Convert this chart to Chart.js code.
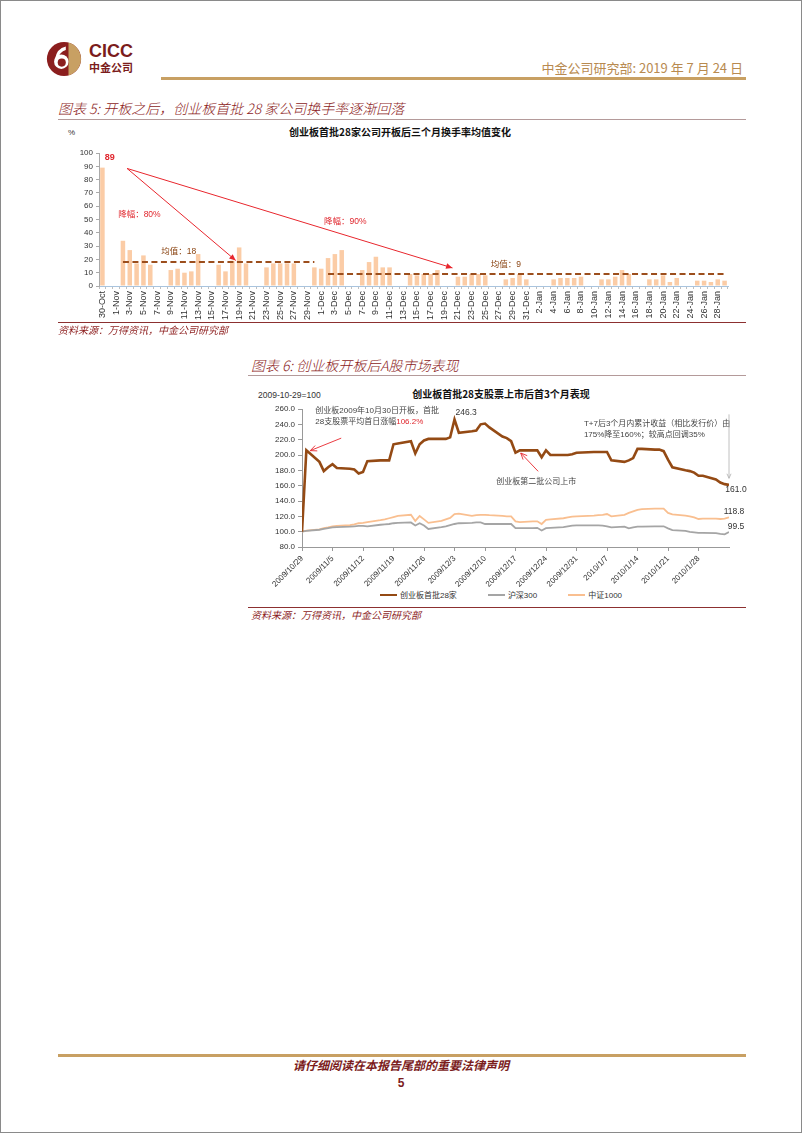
<!DOCTYPE html>
<html>
<head>
<meta charset="utf-8">
<script src="https://cdn.jsdelivr.net/npm/chart.js@4.4.1/dist/chart.umd.min.js"></script>
<style>
  body { margin: 0; background: #fff; }
  #page { position: relative; width: 800px; height: 1131px; border: 1px solid #8a8a8a; overflow: hidden;
          font-family: "Liberation Sans", "Noto Sans CJK SC", sans-serif; }
  .abs { position: absolute; white-space: nowrap; line-height: 1; }
  .fig { color: #8c1c1c; font-style: italic; font-size: 14px; font-weight: 300; font-family: "Noto Sans CJK SC", sans-serif; }
  .src { color: #8c1c1c; font-style: italic; font-size: 10px; font-family: "Noto Sans CJK SC", sans-serif; }
  .rule { position: absolute; height: 1px; }
  canvas { position: absolute; }
  #legend { position: absolute; left: 250px; top: 588px; width: 500px; display: flex; justify-content: center;
            gap: 31px; font-size: 8px; color: #333; font-family: "Liberation Sans", "Noto Sans CJK SC", sans-serif; }
  #legend span.item { display: flex; align-items: center; }
  #legend span.swatch { display: inline-block; width: 17px; height: 2px; margin-right: 3px; }
</style>
</head>
<body>
<div id="page">
  <!-- header -->
  <svg class="abs" style="left:45px;top:40px" width="36" height="36" viewBox="0 0 40 40">
    <circle cx="20" cy="20" r="19" fill="#8b1e1e"/>
    <path d="M25 1.7 A19 19 0 0 1 25 38.3 Z" fill="#c8a063"/>
    <circle cx="17" cy="23" r="8" fill="#fff"/>
    <circle cx="17.5" cy="24" r="4.5" fill="#8b1e1e"/>
    <path d="M10 20 Q12 8 22 6 L22 10 Q15 12 13 20 Z" fill="#fff"/>
  </svg>
  <div class="abs" style="left:88px;top:41px;font-size:18px;font-weight:bold;color:#7b1c1c;">CICC</div>
  <div class="abs" style="left:88px;top:61px;font-size:11px;font-weight:bold;color:#7b1c1c;font-family:'Noto Sans CJK SC';">中金公司</div>
  <div class="abs" style="right:58px;top:60px;font-size:13px;color:#b88a50;font-family:'Noto Sans CJK SC';">中金公司研究部: 2019 年 7 月 24 日</div>
  <div class="rule" style="left:160px;top:76px;width:585px;height:2.5px;background:#c8a063;"></div>

  <!-- figure 5 -->
  <div class="abs fig" style="left:57px;top:100px;">图表 5: 开板之后，创业板首批 28 家公司换手率逐渐回落</div>
  <div class="rule" style="left:57px;top:118px;width:688px;background:#b49a9a;"></div>
  <div class="abs" style="left:0;width:798px;top:126px;text-align:center;font-size:10px;font-weight:bold;color:#111;font-family:'Noto Sans CJK SC';">创业板首批28家公司开板后三个月换手率均值变化</div>
  <div class="abs" style="left:67px;top:128px;font-size:8px;color:#333;">%</div>
  <canvas id="turnover" width="690" height="182" style="left:60px;top:140px;"></canvas>
  <div class="rule" style="left:57px;top:321px;width:688px;background:#8c3030;"></div>
  <div class="abs src" style="left:57px;top:324px;">资料来源：万得资讯，中金公司研究部</div>

  <!-- figure 6 -->
  <div class="abs fig" style="left:250px;top:357px;">图表 6: 创业板开板后A股市场表现</div>
  <div class="rule" style="left:247px;top:374px;width:498px;background:#b49a9a;"></div>
  <div class="abs" style="left:250px;width:500px;top:388px;text-align:center;font-size:10px;font-weight:bold;color:#111;font-family:'Noto Sans CJK SC';">创业板首批28支股票上市后首3个月表现</div>
  <div class="abs" style="left:257px;top:390px;font-size:8.5px;color:#333;">2009-10-29=100</div>
  <canvas id="perf" width="500" height="190" style="left:250px;top:398px;"></canvas>
  <div id="legend"></div>
  <div class="rule" style="left:247px;top:606px;width:498px;background:#8c3030;"></div>
  <div class="abs src" style="left:250px;top:609px;">资料来源：万得资讯，中金公司研究部</div>

  <!-- footer -->
  <div class="rule" style="left:57px;top:1053px;width:688px;height:3px;background:#c8a063;"></div>
  <div class="abs" style="left:0;width:800px;top:1058px;text-align:center;font-size:12px;font-weight:bold;font-style:italic;color:#7b1c1c;font-family:'Noto Sans CJK SC';">请仔细阅读在本报告尾部的重要法律声明</div>
  <div class="abs" style="left:0;width:800px;top:1076px;text-align:center;font-size:12px;font-weight:bold;color:#7b1c1c;">5</div>
</div>

<script>
// ---- Figure 5: daily turnover of the first 28 GEM stocks (%) ----
const turnoverDays = [
  '30-Oct','31-Oct',
  '1-Nov','2-Nov','3-Nov','4-Nov','5-Nov','6-Nov','7-Nov','8-Nov','9-Nov','10-Nov',
  '11-Nov','12-Nov','13-Nov','14-Nov','15-Nov','16-Nov','17-Nov','18-Nov','19-Nov','20-Nov',
  '21-Nov','22-Nov','23-Nov','24-Nov','25-Nov','26-Nov','27-Nov','28-Nov','29-Nov','30-Nov',
  '1-Dec','2-Dec','3-Dec','4-Dec','5-Dec','6-Dec','7-Dec','8-Dec','9-Dec','10-Dec',
  '11-Dec','12-Dec','13-Dec','14-Dec','15-Dec','16-Dec','17-Dec','18-Dec','19-Dec','20-Dec',
  '21-Dec','22-Dec','23-Dec','24-Dec','25-Dec','26-Dec','27-Dec','28-Dec','29-Dec','30-Dec','31-Dec',
  '1-Jan','2-Jan','3-Jan','4-Jan','5-Jan','6-Jan','7-Jan','8-Jan','9-Jan','10-Jan',
  '11-Jan','12-Jan','13-Jan','14-Jan','15-Jan','16-Jan','17-Jan','18-Jan','19-Jan','20-Jan',
  '21-Jan','22-Jan','23-Jan','24-Jan','25-Jan','26-Jan','27-Jan','28-Jan','29-Jan'
];
const turnoverRate = [
  89, null,
  null, 34, 27, 17, 23, 16, null, null, 12, 13,
  10, 11, 24, null, null, 16, 11, 19, 29, 17,
  null, null, 14, 17, 17, 17, 17, null, null, 14,
  13, 21, 24, 27, null, null, 12, 18, 22, 14,
  14, null, null, 9, 8, 9, 9, 12, null, null,
  7, 7, 9, 9, 8, null, null, 5, 6, 9, 5,
  null, null, null, 5, 6, 6, 6, 7, null, null,
  5, 5, 7, 12, 9, null, null, 5, 5, 8,
  3, 6, null, null, 4, 4, 3, 5, 4
];
const meanLevels = [18, 9];
const meanSpans = [['2-Nov', '30-Nov'], ['2-Dec', '29-Jan']];

// annotation anchors in (category index, value)
const dropFrom = [3.6, 88.4];
const dropTo = [[19.5, 19.2], [51.2, 13.6]];
const dropNotes = [['降幅：80%', 2.3, 53.6], ['降幅：90%', 32.4, 48.5]];
const meanNotes = [['均值：18', 8.6, 25.5], ['均值：9', 56.8, 16.4]];

// ---- Figure 6: index performance (2009-10-29 = 100) ----
const perfDates = [
  '2009/10/29','2009/10/30',
  '2009/11/2','2009/11/3','2009/11/4','2009/11/5','2009/11/6',
  '2009/11/9','2009/11/10','2009/11/11','2009/11/12','2009/11/13',
  '2009/11/16','2009/11/17','2009/11/18','2009/11/19','2009/11/20',
  '2009/11/23','2009/11/24','2009/11/25','2009/11/26','2009/11/27',
  '2009/11/30','2009/12/1','2009/12/2','2009/12/3','2009/12/4',
  '2009/12/7','2009/12/8','2009/12/9','2009/12/10','2009/12/11',
  '2009/12/14','2009/12/15','2009/12/16','2009/12/17','2009/12/18',
  '2009/12/21','2009/12/22','2009/12/23','2009/12/24','2009/12/25',
  '2009/12/28','2009/12/29','2009/12/30','2009/12/31',
  '2010/1/4','2010/1/5','2010/1/6','2010/1/7','2010/1/8',
  '2010/1/11','2010/1/12','2010/1/13','2010/1/14','2010/1/15',
  '2010/1/18','2010/1/19','2010/1/20','2010/1/21','2010/1/22',
  '2010/1/25','2010/1/26','2010/1/27','2010/1/28','2010/1/29',
  '2010/2/1','2010/2/2','2010/2/3','2010/2/4'
];
const gemFirst28 = [
  100, 206.2,
  191, 179, 184, 188, 183,
  182, 181, 176, 178, 192,
  193, 193, 193, 214, 215,
  218, 202, 214, 219, 221,
  221, 221, 223, 246.3, 229,
  231, 232, 240, 241, 236,
  224, 222, 218, 203, 206,
  206, 206, 197, 206, 200,
  200, 200, 201, 203,
  204, 204, 204, 204, 193,
  191, 193, 196, 208, 208,
  207, 207, 205, 194, 184,
  180, 179, 177, 173, 173,
  168, 164, 162, 161.0
];
const csi300 = [
  100, 101,
  102.5, 103.5, 104.5, 105.5, 106,
  106.5, 107, 107.5, 107.5, 107,
  109, 109.5, 110, 111, 111.5,
  112, 108, 111, 108, 103.5,
  106, 107, 108.5, 110, 111,
  111.5, 112, 112, 110, 110,
  110, 110, 110, 104.5, 104.5,
  104.5, 105, 101.5, 104.5, 105,
  106, 107, 108, 108.2,
  108.2, 108.2, 108, 107, 105.5,
  106.5, 104.3, 105.5, 106.5, 106.5,
  107, 107, 107, 104.3, 102,
  101, 99.6, 99, 98.5, 98.3,
  98, 97, 96.5, 99.5
];
const csi1000 = [
  100, 101.5,
  103, 104.5, 105.5, 107, 107.5,
  108.5, 109.5, 111, 111.5, 112.5,
  115, 116, 117.5, 119, 120.5,
  122, 114, 120.5, 116, 111.5,
  114, 116, 118, 123, 123.5,
  120.5, 121.5, 122, 122, 121.5,
  120.5, 120, 120, 113.5, 112.5,
  113.5, 113.5, 110, 115.5, 116,
  117.5, 118.5, 119.5, 120,
  121, 121.5, 122, 123, 120,
  122, 124.5, 126.5, 128.5, 129.5,
  130, 130, 130, 124.5, 122.5,
  121, 120, 118.5, 116.5, 117,
  117, 116.5, 117, 118.8
];
const seriesNames = ['创业板首批28家', '沪深300', '中证1000'];
const seriesColors = ['#944a14', '#a5a5a5', '#f9bf90'];
const weekTicks = ['2009/10/29','2009/11/5','2009/11/12','2009/11/19','2009/11/26','2009/12/3','2009/12/10',
                   '2009/12/17','2009/12/24','2009/12/31','2010/1/7','2010/1/14','2010/1/21','2010/1/28'];
const lastDay = '2010/2/4';

// notes on figure 6, anchored at (day offset, index level)
const openNote = ['创业板2009年10月30日开板，首批', '28支股票平均首日涨幅', '106.2%'];
const openNoteAt = [3.05, 258, 243.5];
const openArrow = [[9.0, 222], [1.9, 205.7]];
const secondBatchNote = ['创业板第二批公司上市', 44.6, 165];
const secondBatchArrow = [[54.2, 178.7], [50.2, 202.6]];
const pullbackNote = ['T+7后3个月内累计收益（相比发行价）由', '175%降至160%；较高点回调35%'];
const pullbackNoteAt = [64.7, 240.4, 226.5];
const pullbackArrow = [[98, 253], [98, 169.6]];

const cjk = '"Liberation Sans", "Noto Sans CJK SC", sans-serif';
Chart.defaults.font.family = cjk;
Chart.defaults.color = '#333';

const dayOf = s => {
  const [y, m, d] = s.split('/').map(Number);
  const [y0, m0, d0] = perfDates[0].split('/').map(Number);
  return Math.round((Date.UTC(y, m - 1, d) - Date.UTC(y0, m0 - 1, d0)) / 86400000);
};

const drawArrow = (ctx, x1, y1, x2, y2, color, width, head, filled) => {
  const ang = Math.atan2(y2 - y1, x2 - x1);
  ctx.save();
  ctx.strokeStyle = color;
  ctx.fillStyle = color;
  ctx.lineWidth = width;
  ctx.beginPath();
  ctx.moveTo(x1, y1);
  ctx.lineTo(x2, y2);
  ctx.stroke();
  const ax = x2 - head * Math.cos(ang - 0.42), ay = y2 - head * Math.sin(ang - 0.42);
  const bx = x2 - head * Math.cos(ang + 0.42), by = y2 - head * Math.sin(ang + 0.42);
  ctx.beginPath();
  if (filled) {
    ctx.moveTo(x2, y2); ctx.lineTo(ax, ay); ctx.lineTo(bx, by); ctx.closePath(); ctx.fill();
  } else {
    ctx.moveTo(ax, ay); ctx.lineTo(x2, y2); ctx.lineTo(bx, by); ctx.stroke();
  }
  ctx.restore();
};

// arrows and labels on the turnover chart
const turnoverNotes = {
  id: 'turnoverNotes',
  afterDatasetsDraw(chart) {
    const { ctx, scales: { x, y } } = chart;
    const X = v => x.getPixelForValue(v), Y = v => y.getPixelForValue(v);
    dropTo.forEach(p => drawArrow(ctx, X(dropFrom[0]), Y(dropFrom[1]), X(p[0]), Y(p[1]), '#e8262d', 1, 7, true));
    ctx.save();
    ctx.textBaseline = 'middle';
    ctx.textAlign = 'left';
    ctx.font = 'bold 9px ' + cjk;
    ctx.fillStyle = '#e0262d';
    ctx.fillText(String(turnoverRate[0]), X(0.35), Y(96.7));
    ctx.font = '8.5px ' + cjk;
    dropNotes.forEach(n => ctx.fillText(n[0], X(n[1]), Y(n[2])));
    ctx.fillStyle = '#8b4513';
    meanNotes.forEach(n => ctx.fillText(n[0], X(n[1]), Y(n[2])));
    ctx.restore();
  }
};

new Chart(document.getElementById('turnover'), {
  type: 'bar',
  data: {
    labels: turnoverDays,
    datasets: [
      { type: 'bar', data: turnoverRate, backgroundColor: '#fbcca6',
        categoryPercentage: 1, barPercentage: 0.66, order: 2 },
      ...meanLevels.map((lv, i) => ({
        type: 'line', data: [{ x: meanSpans[i][0], y: lv }, { x: meanSpans[i][1], y: lv }],
        borderColor: '#9c4e1c', borderWidth: 2, borderDash: [6, 3.5], pointRadius: 0, order: 1
      }))
    ]
  },
  options: {
    responsive: false,
    animation: false,
    layout: { padding: { top: 12, right: 23, left: 0, bottom: 0 } },
    plugins: { legend: { display: false }, tooltip: { enabled: false } },
    scales: {
      x: {
        grid: { drawOnChartArea: false, tickLength: 3, color: '#c0c0c0' },
        border: { color: '#a9c4de' },
        ticks: { autoSkip: false, maxRotation: 90, minRotation: 90, padding: 2, font: { size: 9 },
                 callback: (v, i) => (i % 2 === 0 ? turnoverDays[i] : '') },
        afterFit: s => { s.height = 37; }
      },
      y: {
        min: 0, max: 100,
        ticks: { stepSize: 10, font: { size: 8 }, padding: 3 },
        grid: { drawOnChartArea: false, tickLength: 3, color: '#aaa' },
        border: { color: '#aaa' },
        afterFit: s => { s.width = 38; }
      }
    }
  },
  plugins: [turnoverNotes]
});

// arrows and notes on the performance chart
const perfNotes = {
  id: 'perfNotes',
  afterDatasetsDraw(chart) {
    const { ctx, scales: { x, y } } = chart;
    const X = v => x.getPixelForValue(v), Y = v => y.getPixelForValue(v);
    ctx.save();
    ctx.textBaseline = 'middle';
    ctx.textAlign = 'left';
    ctx.font = '8px ' + cjk;
    ctx.fillStyle = '#444';
    ctx.fillText(openNote[0], X(openNoteAt[0]), Y(openNoteAt[1]));
    ctx.fillText(openNote[1], X(openNoteAt[0]), Y(openNoteAt[2]));
    const w = ctx.measureText(openNote[1]).width;
    ctx.fillStyle = '#e0262d';
    ctx.fillText(openNote[2], X(openNoteAt[0]) + w, Y(openNoteAt[2]));
    ctx.fillStyle = '#444';
    ctx.fillText(secondBatchNote[0], X(secondBatchNote[1]), Y(secondBatchNote[2]));
    ctx.fillText(pullbackNote[0], X(pullbackNoteAt[0]), Y(pullbackNoteAt[1]));
    ctx.fillText(pullbackNote[1], X(pullbackNoteAt[0]), Y(pullbackNoteAt[2]));

    // peak and end values
    ctx.font = '8.5px ' + cjk;
    ctx.fillStyle = '#333';
    const peak = Math.max(...gemFirst28);
    const peakDay = dayOf(perfDates[gemFirst28.indexOf(peak)]);
    ctx.fillText(peak.toFixed(1), X(peakDay) + 1, Y(peak + 8.5));
    const end = dayOf(lastDay);
    ctx.textAlign = 'center';
    ctx.fillText(gemFirst28[gemFirst28.length - 1].toFixed(1), X(end) + 7, Y(gemFirst28[gemFirst28.length - 1] - 6));
    ctx.fillText(csi1000[csi1000.length - 1].toFixed(1), X(end) + 5, Y(csi1000[csi1000.length - 1] + 7.5));
    ctx.fillText(csi300[csi300.length - 1].toFixed(1), X(end) + 7, Y(csi300[csi300.length - 1] + 7.5));
    ctx.restore();

    drawArrow(ctx, X(openArrow[0][0]), Y(openArrow[0][1]), X(openArrow[1][0]), Y(openArrow[1][1]), '#e8262d', 0.9, 7, false);
    drawArrow(ctx, X(secondBatchArrow[0][0]), Y(secondBatchArrow[0][1]), X(secondBatchArrow[1][0]), Y(secondBatchArrow[1][1]), '#e8262d', 0.9, 7, false);
    drawArrow(ctx, X(pullbackArrow[0][0]), Y(pullbackArrow[0][1]), X(pullbackArrow[1][0]), Y(pullbackArrow[1][1]), '#b0b0b0', 0.8, 5, false);
  }
};

const toPoints = vals => vals.map((v, i) => ({ x: dayOf(perfDates[i]), y: v }));
const perfSeries = [gemFirst28, csi300, csi1000];

new Chart(document.getElementById('perf'), {
  type: 'line',
  data: {
    datasets: perfSeries.map((s, i) => ({
      label: seriesNames[i],
      data: toPoints(s),
      borderColor: seriesColors[i],
      borderWidth: i === 0 ? 2.6 : 1.8,
      pointRadius: 0,
      tension: 0
    }))
  },
  options: {
    responsive: false,
    animation: false,
    layout: { padding: { top: 10, right: 22, left: 0, bottom: 0 } },
    plugins: { legend: { display: false }, tooltip: { enabled: false } },
    scales: {
      x: {
        type: 'linear', min: 0, max: dayOf(lastDay),
        afterBuildTicks: s => { s.ticks = weekTicks.map(d => ({ value: dayOf(d) })); },
        ticks: { autoSkip: false, maxRotation: 45, minRotation: 45, font: { size: 8 },
                 callback: (v, i) => weekTicks[i] },
        grid: { drawOnChartArea: false, tickLength: 4, color: '#999' },
        border: { color: '#999' },
        afterFit: s => { s.height = 42; }
      },
      y: {
        min: 80, max: 260,
        ticks: { stepSize: 20, font: { size: 8 }, callback: v => v.toFixed(1) },
        grid: { drawOnChartArea: false, tickLength: 4, color: '#999' },
        border: { color: '#999' },
        afterFit: s => { s.width = 51; }
      }
    }
  },
  plugins: [perfNotes]
});

// legend for figure 6
const legend = document.getElementById('legend');
seriesNames.forEach((name, i) => {
  const item = document.createElement('span');
  item.className = 'item';
  const sw = document.createElement('span');
  sw.className = 'swatch';
  sw.style.background = seriesColors[i];
  item.appendChild(sw);
  item.appendChild(document.createTextNode(name));
  legend.appendChild(item);
});
</script>
</body>
</html>
